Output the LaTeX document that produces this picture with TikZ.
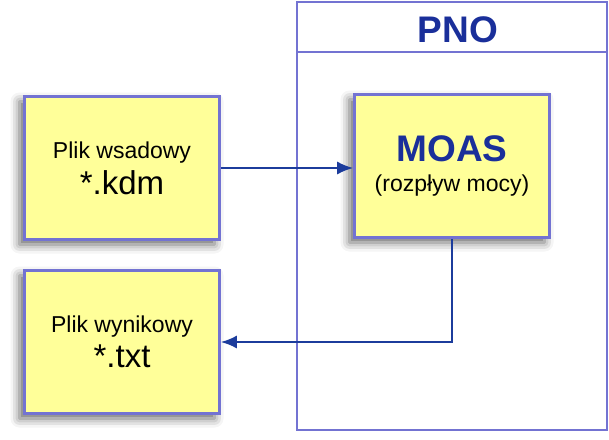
\documentclass[tikz,border=0pt]{standalone}
\usepackage{fontspec}
\setmainfont{Liberation Sans}
\usetikzlibrary{shadows.blur,positioning,arrows.meta}
\definecolor{boxfill}{HTML}{FFFF99}
\definecolor{boxline}{HTML}{7373D2}
\definecolor{arrowc}{HTML}{1C3C9C}
\definecolor{titlec}{HTML}{1A2F9A}
\tikzset{
  filebox/.style={draw=boxline, line width=2.6pt, fill=boxfill, minimum width=195pt,
    minimum height=143pt, align=center, blur shadow={shadow xshift=-5pt, shadow yshift=-5pt, shadow blur radius=9pt, shadow opacity=60}},
  frame/.style={draw=boxline, line width=1.5pt},
  conn/.style={draw=arrowc, line width=2pt, -{Latex[length=16pt,width=13pt]}}
}
\begin{document}
\begin{tikzpicture}[x=1pt,y=-1pt]
  \useasboundingbox (0,0) rectangle (609,439);
  % PNO frame
  \draw[frame] (297,2) rectangle (607,430);
  \draw[frame] (297,52) -- (607,52);
  \node[text=titlec, font=\fontsize{37}{40}\selectfont\bfseries] (pno) at (458,30) {PNO};

  \node[filebox] (kdm) at (122,168) {\fontsize{23}{27}\selectfont Plik wsadowy\\[6pt]\fontsize{33}{30}\selectfont *.kdm};
  \node[filebox] (txt) at (122,342) {\fontsize{23}{27}\selectfont Plik wynikowy\\[6pt]\fontsize{33}{30}\selectfont *.txt};
  \node[filebox] (moas) at (452,166) {\fontsize{37}{40}\selectfont\bfseries\color{titlec}MOAS\\[12pt]\fontsize{23}{27}\selectfont (rozpływ mocy)};

  \draw[conn] (kdm.east) -- (kdm.east -| moas.west);
  \coordinate (bend) at (moas.south |- txt.east);
  \draw[conn] (moas.south) -- (bend) -- (txt.east);
\end{tikzpicture}
\end{document}
